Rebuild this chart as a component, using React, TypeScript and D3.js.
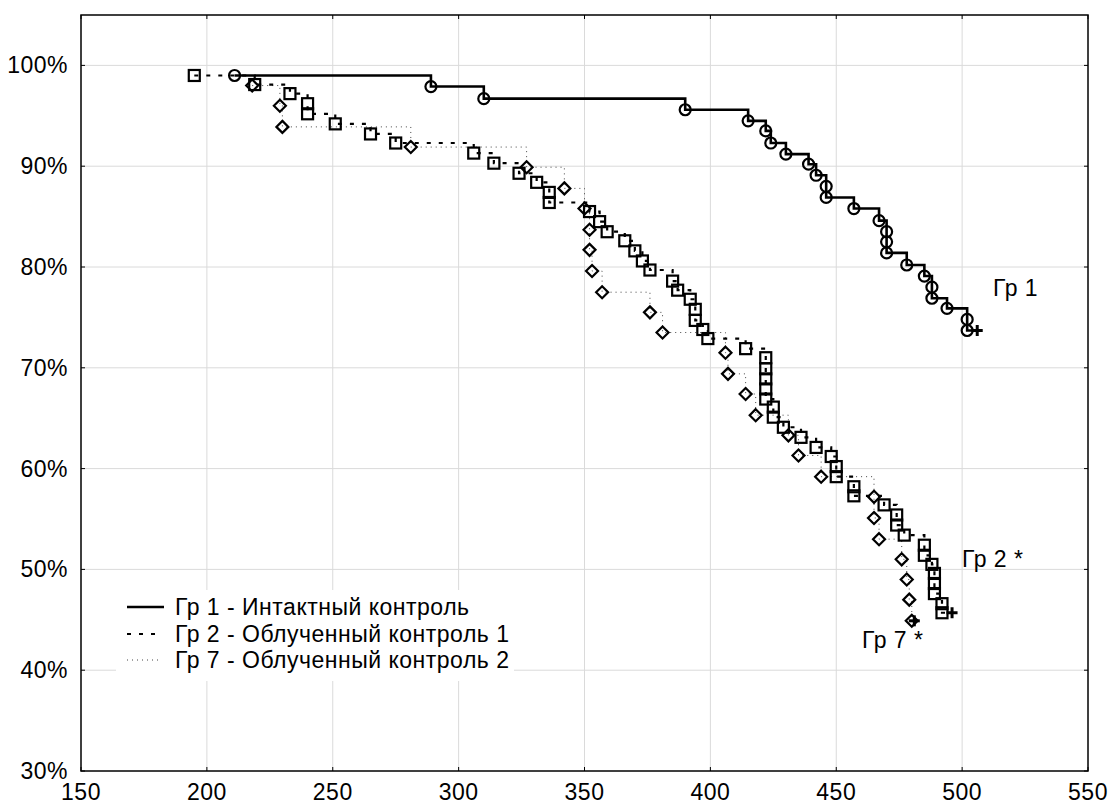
// Kaplan-Meier style survival curves for three groups (Гр 1, Гр 2, Гр 7)
import React from 'react';
import * as d3 from 'd3';

const xTicks = [150, 200, 250, 300, 350, 400, 450, 500, 550];
const yTicks = [30, 40, 50, 60, 70, 80, 90, 100];

// Гр 1 - Интактный контроль
const gr1Times = [211, 289, 310, 390, 415, 422, 424, 430, 439, 442, 446, 446, 457, 467, 470, 470, 470, 478, 485, 488, 488, 494, 502, 502];
const gr1Surv = [99.0, 97.9, 96.7, 95.6, 94.5, 93.5, 92.3, 91.2, 90.2, 89.1, 88.0, 86.9, 85.8, 84.6, 83.5, 82.5, 81.4, 80.2, 79.1, 78.0, 76.9, 75.9, 74.8, 73.7];
const gr1Censor = 506;

// Гр 2 - Облученный контроль 1
const gr2Times = [195, 219, 233, 240, 240, 251, 265, 275, 306, 314, 324, 331, 336, 336, 352, 356, 359, 366, 370, 373, 376, 385, 387, 392, 394, 394, 397, 399, 414, 422, 422, 422, 422, 422, 425, 425, 429, 436, 442, 448, 450, 450, 457, 457, 469, 474, 474, 477, 485, 485, 488, 489, 489, 489, 492, 492];
const gr2Surv = [99.0, 98.1, 97.2, 96.2, 95.2, 94.2, 93.2, 92.3, 91.3, 90.3, 89.3, 88.4, 87.4, 86.4, 85.5, 84.5, 83.5, 82.6, 81.6, 80.6, 79.7, 78.6, 77.7, 76.8, 75.8, 74.7, 73.8, 72.9, 71.9, 71.0, 69.9, 68.9, 67.9, 66.9, 66.1, 65.1, 64.1, 63.1, 62.1, 61.2, 60.2, 59.2, 58.2, 57.3, 56.4, 55.4, 54.4, 53.4, 52.4, 51.4, 50.5, 49.6, 48.6, 47.6, 46.6, 45.7];
const gr2Censor = 496;

// Гр 7 - Облученный контроль 2
const gr7Times = [218, 229, 230, 281, 327, 342, 350, 352, 352, 353, 357, 376, 381, 406, 407, 414, 418, 431, 435, 444, 465, 465, 467, 476, 478, 479, 480];
const gr7Surv = [98.0, 96.0, 93.9, 91.9, 89.9, 87.8, 85.8, 83.7, 81.7, 79.6, 77.5, 75.5, 73.5, 71.5, 69.4, 67.4, 65.3, 63.3, 61.3, 59.2, 57.2, 55.1, 53.0, 51.0, 49.0, 47.0, 44.9];
const gr7Censor = 481;

const legendLabels = ['Гр 1 - Интактный контроль', 'Гр 2 - Облученный контроль 1', 'Гр 7 - Облученный контроль 2'];

const W = 1109, H = 805;
const left = 81, right = 1088, top = 15, bottom = 771;
const font = '"Liberation Sans", Arial, sans-serif';

const x = d3.scaleLinear().domain([150, 550]).range([left, right]);
const y = d3.scaleLinear().domain([30, 105]).range([bottom, top]);

function curve(times: number[], surv: number[], censor: number) {
  const pts: [number, number][] = times.map((t, i) => [t, surv[i]]);
  pts.push([censor, surv[surv.length - 1]]);
  return d3.line<[number, number]>()
    .x(d => x(d[0]))
    .y(d => y(d[1]))
    .curve(d3.curveStepAfter)(pts) as string;
}

function Plus({ t, s }: { t: number, s: number }) {
  const cx = x(t), cy = y(s);
  return <g stroke="#000" strokeWidth={3}>
    <line x1={cx - 5.5} x2={cx + 5.5} y1={cy} y2={cy} />
    <line x1={cx} x2={cx} y1={cy - 5.5} y2={cy + 5.5} />
  </g>;
}

export default function App() {
  return (
    <div style={{ position: 'absolute', left: 0, top: 0 }}>
      <svg width={W} height={H} style={{ display: 'block', background: '#fff' }} fontFamily={font}>
        {/* grid */}
        <g stroke="#dadada" strokeWidth={1}>
          {xTicks.slice(1, -1).map(t => <line key={'gx' + t} x1={x(t)} x2={x(t)} y1={top} y2={bottom} />)}
          {yTicks.slice(1).map(t => <line key={'gy' + t} x1={left} x2={right} y1={y(t)} y2={y(t)} />)}
        </g>

        {/* ticks, inward on all sides */}
        <g stroke="#000" strokeWidth={1}>
          {xTicks.map(t => <line key={'tb' + t} x1={x(t)} x2={x(t)} y1={bottom} y2={bottom - 4} />)}
          {xTicks.map(t => <line key={'tt' + t} x1={x(t)} x2={x(t)} y1={top} y2={top + 4} />)}
          {yTicks.map(t => <line key={'tl' + t} x1={left} x2={left + 4} y1={y(t)} y2={y(t)} />)}
          {yTicks.map(t => <line key={'tr' + t} x1={right} x2={right - 4} y1={y(t)} y2={y(t)} />)}
        </g>
        <rect x={left} y={top} width={right - left} height={bottom - top} fill="none" stroke="#000" strokeWidth={1.5} />

        {/* tick labels */}
        <g fontSize={23} letterSpacing={0.5} fill="#000">
          {xTicks.map(t => <text key={'lx' + t} x={x(t)} y={800} textAnchor="middle">{t}</text>)}
          {yTicks.map(t => <text key={'ly' + t} x={68} y={y(t) + 8} textAnchor="end">{t + '%'}</text>)}
        </g>

        {/* Гр 7 */}
        <path d={curve(gr7Times, gr7Surv, gr7Censor)} fill="none" stroke="#444" strokeWidth={1} strokeDasharray="1,4" />
        <g fill="none" stroke="#000" strokeWidth={2.2}>
          {gr7Times.map((t, i) => {
            const cx = x(t), cy = y(gr7Surv[i]), r = 6;
            return <path key={'d' + i} d={`M${cx},${cy - r}L${cx + r},${cy}L${cx},${cy + r}L${cx - r},${cy}Z`} />;
          })}
        </g>
        <Plus t={gr7Censor} s={gr7Surv[gr7Surv.length - 1]} />

        {/* Гр 2 */}
        <path d={curve(gr2Times, gr2Surv, gr2Censor)} fill="none" stroke="#000" strokeWidth={2.2} strokeDasharray="4,8" />
        <g fill="none" stroke="#000" strokeWidth={2.2}>
          {gr2Times.map((t, i) => <rect key={'s' + i} x={x(t) - 5.5} y={y(gr2Surv[i]) - 5.5} width={11} height={11} />)}
        </g>
        <Plus t={gr2Censor} s={gr2Surv[gr2Surv.length - 1]} />

        {/* Гр 1 */}
        <path d={curve(gr1Times, gr1Surv, gr1Censor)} fill="none" stroke="#000" strokeWidth={2.6} />
        <g fill="none" stroke="#000" strokeWidth={2.2}>
          {gr1Times.map((t, i) => <circle key={'c' + i} cx={x(t)} cy={y(gr1Surv[i])} r={5.5} />)}
        </g>
        <Plus t={gr1Censor} s={gr1Surv[gr1Surv.length - 1]} />

        {/* group labels */}
        <g fontSize={23} letterSpacing={0.5} fill="#000">
          <text x={993} y={296}>Гр 1</text>
          <text x={962} y={567}>Гр 2 *</text>
          <text x={862} y={648}>Гр 7 *</text>
        </g>

        {/* legend */}
        <rect x={116} y={590} width={398} height={91} fill="#fff" />
        <g>
          <line x1={127} x2={164} y1={607} y2={607} stroke="#000" strokeWidth={2.6} />
          <line x1={127} x2={160} y1={634} y2={634} stroke="#000" strokeWidth={2.2} strokeDasharray="4,8" />
          <line x1={127} x2={160} y1={660} y2={660} stroke="#444" strokeWidth={1} strokeDasharray="1,4" />
        </g>
        <g fontSize={23} letterSpacing={0.5} fill="#000">
          {legendLabels.map((l, i) => <text key={l} x={175} y={615 + i * 26.5}>{l}</text>)}
        </g>
      </svg>
    </div>
  );
}
